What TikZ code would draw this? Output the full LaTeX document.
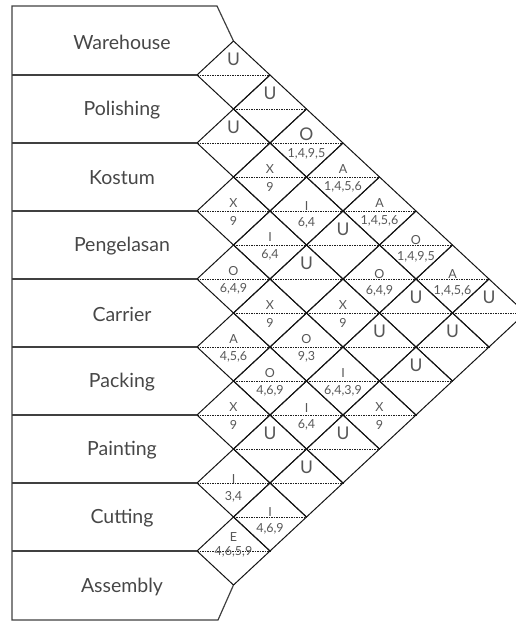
\documentclass[tikz,border=0pt]{standalone}
\usepackage{fontspec}
\setmainfont{Lato}
\begin{document}
\begin{tikzpicture}[x=1pt,y=-1pt,
  edge/.style={line width=1pt, draw=black!92},
  mid/.style={line width=0.9pt, draw=black!88, dash pattern=on 1.6pt off 0.9pt},
  boxline/.style={line width=1.2pt, draw=black!75},
  dept/.style={font=\fontsize{19.5}{21}\selectfont, text=black!72},
  rel/.style={font=\fontsize{12.5}{13}\selectfont, text=black!66, inner sep=0.5pt},
  relu/.style={font=\fontsize{17.5}{18}\selectfont, text=black!66, inner sep=0.5pt},
  rsn/.style={font=\fontsize{12.5}{13}\selectfont, text=black!66, inner sep=0.5pt}]
\useasboundingbox (0,0) rectangle (516,622);
\clip (0,0) rectangle (516,622);

% diamonds of the relationship chart
\foreach \i in {1,...,8}{
  \pgfmathtruncatemacro\jstart{\i+1}
  \foreach \j in {\jstart,...,9}{
    \pgfmathsetmacro\cx{197+36.5*(\j-\i)}
    \pgfmathsetmacro\cy{75+34*(\i+\j-3)}
    \coordinate (c-\i-\j) at (\cx,\cy);
    \draw[edge] (\cx-36.5,\cy) -- (\cx,\cy-34) -- (\cx+36.5,\cy) -- (\cx,\cy+34) -- cycle;
    \draw[mid] (\cx-36.5,\cy) -- (\cx+36.5,\cy);
  }
}

% department boxes
\coordinate (tl) at (12,6);
\coordinate (tr) at (217,6);
\coordinate (bl) at (12,620);
\coordinate (br) at (218,620);
\draw[boxline] ([yshift=34pt]c-1-2) -- (tr) -- (tl) -- (bl) -- (br) -- ([yshift=-34pt]c-8-9);
\foreach \k in {1,...,8}{
  \pgfmathsetmacro\by{75+68*(\k-1)}
  \coordinate (bL\k) at (12,\by);
  \draw[boxline] (bL\k) -- (197,\by);
}

\node[dept] (warehouse) at (122,42) {Warehouse};
\node[dept] (polishing) at (122,110) {Polishing};
\node[dept] (kostum) at (122,178) {Kostum};
\node[dept] (pengelasan) at (122,246) {Pengelasan};
\node[dept] (carrier) at (122,314) {Carrier};
\node[dept] (packing) at (122,382) {Packing};
\node[dept] (painting) at (122,450) {Painting};
\node[dept] (cutting) at (122,518) {Cutting};
\node[dept] (assembly) at (122,587) {Assembly};

% d = 1
\node[relu] (l12) at ([yshift=16pt]c-1-2) {U};
\node[relu] (l23) at ([yshift=16pt]c-2-3) {U};
\node[rel] (l34) at ([yshift=8pt]c-3-4) {X};
\node[rsn] (n34) at ([yshift=-10pt]c-3-4) {9};
\node[rel] (l45) at ([yshift=8pt]c-4-5) {O};
\node[rsn] (n45) at ([yshift=-10pt]c-4-5) {6,4,9};
\node[rel] (l56) at ([yshift=8pt]c-5-6) {A};
\node[rsn] (n56) at ([yshift=-10pt]c-5-6) {4,5,6};
\node[rel] (l67) at ([yshift=8pt]c-6-7) {X};
\node[rsn] (n67) at ([yshift=-10pt]c-6-7) {9};
\node[rel] (l78) at ([yshift=4pt]c-7-8) {I};
\node[rsn] (n78) at ([yshift=-14pt]c-7-8) {3,4};
\node[rel] (l89) at ([yshift=14pt]c-8-9) {E};
\node[rsn] (n89) at ([yshift=-1pt]c-8-9) {4,6,5,9};
% d = 2
\node[relu] (l13) at ([yshift=16pt]c-1-3) {U};
\node[rel] (l24) at ([yshift=8pt]c-2-4) {X};
\node[rsn] (n24) at ([yshift=-10pt]c-2-4) {9};
\node[rel] (l35) at ([yshift=8pt]c-3-5) {I};
\node[rsn] (n35) at ([yshift=-10pt]c-3-5) {6,4};
\node[rel] (l46) at ([yshift=8pt]c-4-6) {X};
\node[rsn] (n46) at ([yshift=-10pt]c-4-6) {9};
\node[rel] (l57) at ([yshift=8pt]c-5-7) {O};
\node[rsn] (n57) at ([yshift=-10pt]c-5-7) {4,6,9};
\node[relu] (l68) at ([yshift=16pt]c-6-8) {U};
\node[rel] (l79) at ([yshift=5pt]c-7-9) {I};
\node[rsn] (n79) at ([yshift=-12pt]c-7-9) {4,6,9};
% d = 3
\node[relu] (l14) at ([yshift=9pt]c-1-4) {O};
\node[rsn] (n14) at ([yshift=-11pt]c-1-4) {1,4,9,5};
\node[rel] (l25) at ([yshift=5pt]c-2-5) {I};
\node[rsn] (n25) at ([yshift=-12pt]c-2-5) {6,4};
\node[relu] (l36) at ([yshift=16pt]c-3-6) {U};
\node[rel] (l47) at ([yshift=8pt]c-4-7) {O};
\node[rsn] (n47) at ([yshift=-10pt]c-4-7) {9,3};
\node[rel] (l58) at ([yshift=7pt]c-5-8) {I};
\node[rsn] (n58) at ([yshift=-10pt]c-5-8) {6,4};
\node[relu] (l69) at ([yshift=16pt]c-6-9) {U};
% d = 4
\node[rel] (l15) at ([yshift=8pt]c-1-5) {A};
\node[rsn] (n15) at ([yshift=-10pt]c-1-5) {1,4,5,6};
\node[relu] (l26) at ([yshift=16pt]c-2-6) {U};
\node[rel] (l37) at ([yshift=8pt]c-3-7) {X};
\node[rsn] (n37) at ([yshift=-10pt]c-3-7) {9};
\node[rel] (l48) at ([yshift=8pt]c-4-8) {I};
\node[rsn] (n48) at ([yshift=-10pt]c-4-8) {6,4,3,9};
\node[relu] (l59) at ([yshift=16pt]c-5-9) {U};
% d = 5
\node[rel] (l16) at ([yshift=8pt]c-1-6) {A};
\node[rsn] (n16) at ([yshift=-10pt]c-1-6) {1,4,5,6};
\node[rel] (l27) at ([yshift=5pt]c-2-7) {O};
\node[rsn] (n27) at ([yshift=-12pt]c-2-7) {6,4,9};
\node[relu] (l38) at ([yshift=16pt]c-3-8) {U};
\node[rel] (l49) at ([yshift=8pt]c-4-9) {X};
\node[rsn] (n49) at ([yshift=-10pt]c-4-9) {9};
% d = 6
\node[rel] (l17) at ([yshift=5pt]c-1-7) {O};
\node[rsn] (n17) at ([yshift=-12pt]c-1-7) {1,4,9,5};
\node[relu] (l28) at ([yshift=16pt]c-2-8) {U};
\node[relu] (l39) at ([yshift=16pt]c-3-9) {U};
% d = 7
\node[rel] (l18) at ([yshift=5pt]c-1-8) {A};
\node[rsn] (n18) at ([yshift=-12pt]c-1-8) {1,4,5,6};
\node[relu] (l29) at ([yshift=16pt]c-2-9) {U};
% d = 8
\node[relu] (l19) at ([yshift=16pt]c-1-9) {U};
\end{tikzpicture}
\end{document}
